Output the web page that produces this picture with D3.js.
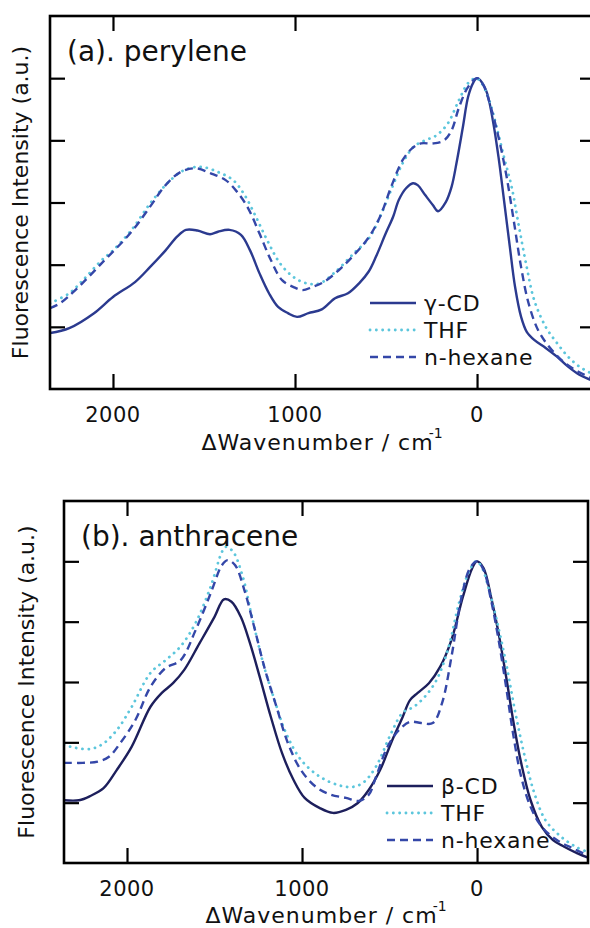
<!DOCTYPE html>
<html>
<head>
<meta charset="utf-8">
<script src="https://cdn.jsdelivr.net/npm/d3@7/dist/d3.min.js"></script>
<style>
  html, body { margin: 0; padding: 0; background: #fff; }
  svg { display: block; font-family: "DejaVu Sans", Verdana, sans-serif; }
</style>
</head>
<body>
<svg id="chart" width="590" height="928"></svg>
<script>
// ---- Data: intensity (a.u.) vs. wavenumber shift (cm^-1) ----
const xTicks = [2000, 1000, 0];
const yTicks = [1, 2, 3, 4, 5];

// (a) perylene
const perGammaShift = [2346,2240,2104,2000,1879,1797,1711,1648,1599,1536,1467,1423,1360,1297,1247,1195,1143,1093,1039,989,926,853,780,709,648,595,555,502,461,430,390,352,326,285,243,214,171,140,110,78,49,22,0,-25,-55,-87,-118,-148,-180,-209,-242,-273,-314,-377,-439,-500,-562,-621,-648];
const perGammaInt   = [0.90,0.98,1.22,1.48,1.72,1.96,2.23,2.45,2.56,2.55,2.49,2.53,2.56,2.48,2.23,1.86,1.54,1.32,1.22,1.16,1.22,1.28,1.46,1.54,1.70,1.89,2.13,2.50,2.77,3.04,3.23,3.31,3.28,3.12,2.96,2.86,3.01,3.25,3.68,4.21,4.70,4.92,5.0,4.94,4.76,4.32,3.73,3.04,2.29,1.64,1.16,0.92,0.79,0.66,0.52,0.36,0.23,0.15,0.11];

const perThfShift = [2346,2240,2165,2063,2000,1898,1797,1711,1629,1566,1505,1423,1340,1277,1215,1154,1082,1008,936,864,780,678,595,533,472,409,347,285,223,161,99,49,5,-25,-66,-108,-148,-190,-231,-273,-314,-377,-439,-500,-562,-621,-648];
const perThfInt   = [1.38,1.54,1.75,2.07,2.23,2.56,2.98,3.28,3.49,3.56,3.57,3.49,3.36,3.12,2.77,2.40,2.02,1.80,1.70,1.70,1.88,2.18,2.42,2.77,3.20,3.63,3.90,4.00,4.08,4.27,4.65,4.92,5.0,4.92,4.65,4.21,3.73,3.25,2.60,1.96,1.43,1.00,0.74,0.52,0.36,0.26,0.22];

const perHexShift = [2346,2290,2207,2063,1898,1797,1711,1629,1546,1463,1381,1318,1258,1195,1132,1071,1008,957,907,843,760,678,595,533,472,409,357,308,243,181,140,99,49,0,-34,-76,-118,-159,-201,-242,-283,-335,-396,-478,-562,-621,-648];
const perHexInt   = [1.30,1.38,1.59,2.02,2.53,2.93,3.28,3.49,3.55,3.47,3.36,3.17,2.91,2.50,2.07,1.75,1.64,1.59,1.64,1.72,1.91,2.15,2.44,2.77,3.25,3.68,3.87,3.95,3.95,4.00,4.16,4.53,4.86,5.0,4.89,4.53,4.05,3.47,2.72,1.96,1.38,0.95,0.68,0.43,0.27,0.19,0.16];

// (b) anthracene
const antBetaShift = [2360,2274,2210,2134,2059,1973,1866,1801,1737,1673,1586,1500,1446,1403,1350,1297,1242,1178,1114,1049,985,898,823,749,683,619,554,491,425,383,339,275,211,146,81,27,0,-37,-80,-123,-166,-209,-252,-306,-370,-434,-498,-574,-634];
const antBetaInt   = [1.04,1.04,1.11,1.24,1.54,1.93,2.59,2.82,2.98,3.20,3.64,4.08,4.37,4.33,4.08,3.64,3.09,2.42,1.82,1.38,1.08,0.91,0.83,0.88,0.99,1.21,1.54,1.99,2.42,2.70,2.82,2.98,3.25,3.70,4.41,4.89,5.0,4.89,4.41,3.81,3.09,2.32,1.66,1.04,0.60,0.38,0.27,0.16,0.09];

const antThfShift = [2360,2297,2210,2145,2059,1973,1866,1780,1694,1608,1522,1457,1436,1394,1339,1286,1222,1157,1091,1006,898,791,715,651,577,491,425,361,297,232,167,103,49,5,-26,-69,-112,-166,-219,-273,-327,-391,-478,-563,-634];
const antThfInt   = [1.96,1.91,1.89,1.96,2.20,2.59,3.15,3.36,3.59,3.98,4.58,5.16,5.24,5.16,4.75,4.08,3.31,2.70,2.15,1.71,1.43,1.29,1.26,1.33,1.60,2.15,2.49,2.59,2.76,3.03,3.53,4.31,4.81,5.0,4.91,4.52,4.03,3.31,2.49,1.76,1.16,0.71,0.44,0.27,0.18];

const antHexShift = [2360,2328,2253,2167,2103,2038,1952,1866,1780,1694,1608,1522,1457,1425,1383,1329,1274,1211,1146,1081,1006,920,834,749,674,619,577,511,447,383,319,253,200,146,92,40,0,-37,-80,-123,-166,-209,-252,-306,-370,-456,-542,-634];
const antHexInt   = [1.66,1.66,1.66,1.68,1.76,1.99,2.37,2.92,3.23,3.36,3.86,4.47,4.94,5.02,4.94,4.52,3.92,3.20,2.59,1.99,1.54,1.26,1.13,1.08,1.03,1.13,1.43,1.93,2.20,2.34,2.32,2.32,2.65,3.42,4.36,4.89,5.0,4.86,4.36,3.70,2.92,2.09,1.43,0.93,0.60,0.38,0.25,0.12];

const perLegend = ["γ-CD", "THF", "n-hexane"];
const antLegend = ["β-CD", "THF", "n-hexane"];

// ---- Styles ----
const styles = {
  solidA: { color: "#2b3a8f", width: 2.4, dash: null, cap: "butt" },
  solidB: { color: "#1d1f5c", width: 2.4, dash: null, cap: "butt" },
  thf:    { color: "#5cc6dc", width: 2.8, dash: "0.1,6.2", cap: "round" },
  hex:    { color: "#3447a8", width: 2.4, dash: "8,5", cap: "butt" }
};

const svg = d3.select("#chart");

function zip(xs, ys) { return xs.map((x, i) => ({ x, y: ys[i] })); }

function drawPanel(cfg) {
  const { left, right, top, bottom, domainX, id } = cfg;
  const x = d3.scaleLinear().domain(domainX).range([left, right]);
  const y = d3.scaleLinear().domain([0, 6]).range([bottom, top]);

  const g = svg.append("g");

  g.append("clipPath").attr("id", id)
    .append("rect").attr("x", left).attr("y", top)
    .attr("width", right - left).attr("height", bottom - top);

  // spectra
  const line = d3.line().x(d => x(d.x)).y(d => y(d.y)).curve(d3.curveCatmullRom.alpha(0.5));
  const curves = g.append("g").attr("clip-path", `url(#${id})`);
  cfg.series.forEach(s => {
    curves.append("path")
      .datum(zip(s.xs, s.ys))
      .attr("d", line)
      .attr("fill", "none")
      .attr("stroke", s.style.color)
      .attr("stroke-width", s.style.width)
      .attr("stroke-dasharray", s.style.dash)
      .attr("stroke-linecap", s.style.cap)
      .attr("stroke-linejoin", "round");
  });

  // inward ticks on all four sides
  const tickLen = 15;
  const axBottom = d3.axisTop(x).tickValues(xTicks).tickSize(tickLen).tickFormat("");
  const axTop = d3.axisBottom(x).tickValues(xTicks).tickSize(tickLen).tickFormat("");
  const axLeft = d3.axisRight(y).tickValues(yTicks).tickSize(tickLen).tickFormat("");
  const axRight = d3.axisLeft(y).tickValues(yTicks).tickSize(tickLen).tickFormat("");
  [[axBottom, `translate(0,${bottom})`], [axTop, `translate(0,${top})`],
   [axLeft, `translate(${left},0)`], [axRight, `translate(${right},0)`]].forEach(([ax, tr]) => {
    const a = g.append("g").attr("transform", tr).call(ax);
    a.select(".domain").remove();
    a.selectAll("line").attr("stroke", "#000").attr("stroke-width", 2.2);
  });

  // frame
  g.append("rect").attr("x", left).attr("y", top)
    .attr("width", right - left).attr("height", bottom - top)
    .attr("fill", "none").attr("stroke", "#000").attr("stroke-width", 2.6);

  // tick labels
  g.append("g").selectAll("text").data(xTicks).join("text")
    .attr("x", d => x(d)).attr("y", bottom + 33)
    .attr("text-anchor", "middle").attr("font-size", 21).attr("letter-spacing", 0.5)
    .attr("fill", "#111")
    .text(d => d);

  // x-axis title
  const t = g.append("text")
    .attr("x", cfg.xTitleX).attr("y", bottom + cfg.xTitleDy)
    .attr("text-anchor", "middle").attr("font-size", 22).attr("letter-spacing", 1)
    .attr("fill", "#111");
  t.append("tspan").text("ΔWavenumber / cm");
  t.append("tspan").attr("dx", -5).attr("dy", -12).attr("font-size", 14)
    .attr("letter-spacing", 0).text("-1");

  // y-axis title
  g.append("text")
    .attr("transform", `translate(${cfg.yTitleX},${(top + bottom) / 2}) rotate(-90)`)
    .attr("text-anchor", "middle").attr("font-size", 22).attr("fill", "#111")
    .text("Fluorescence Intensity (a.u.)");

  // panel label
  g.append("text").attr("x", cfg.labelX).attr("y", cfg.labelY)
    .attr("font-size", 28).attr("fill", "#111").text(cfg.label);

  // legend
  const lg = g.append("g");
  cfg.legend.forEach((name, i) => {
    const s = cfg.series[i].style;
    const ly = cfg.legendY + i * 27;
    lg.append("line")
      .attr("x1", cfg.legendX).attr("x2", cfg.legendX + 46)
      .attr("y1", ly).attr("y2", ly)
      .attr("stroke", s.color).attr("stroke-width", s.width)
      .attr("stroke-dasharray", s.dash).attr("stroke-linecap", s.cap);
    lg.append("text").attr("x", cfg.legendX + 54).attr("y", ly + 8)
      .attr("font-size", 22).attr("fill", "#111").attr("letter-spacing", 0.8).text(name);
  });
}

drawPanel({
  id: "clipA", left: 50, right: 595, top: 16, bottom: 389,
  domainX: [2346, -648],
  label: "(a). perylene", labelX: 67, labelY: 61,
  xTitleX: 322, xTitleDy: 61,
  yTitleX: 28,
  legend: perLegend, legendX: 370, legendY: 303,
  series: [
    { xs: perGammaShift, ys: perGammaInt, style: styles.solidA },
    { xs: perThfShift, ys: perThfInt, style: styles.thf },
    { xs: perHexShift, ys: perHexInt, style: styles.hex }
  ]
});

drawPanel({
  id: "clipB", left: 64, right: 588, top: 501, bottom: 863,
  domainX: [2360, -634],
  label: "(b). anthracene", labelX: 81, labelY: 546,
  xTitleX: 326, xTitleDy: 60,
  yTitleX: 34,
  legend: antLegend, legendX: 387, legendY: 786,
  series: [
    { xs: antBetaShift, ys: antBetaInt, style: styles.solidB },
    { xs: antThfShift, ys: antThfInt, style: styles.thf },
    { xs: antHexShift, ys: antHexInt, style: styles.hex }
  ]
});
</script>
</body>
</html>
